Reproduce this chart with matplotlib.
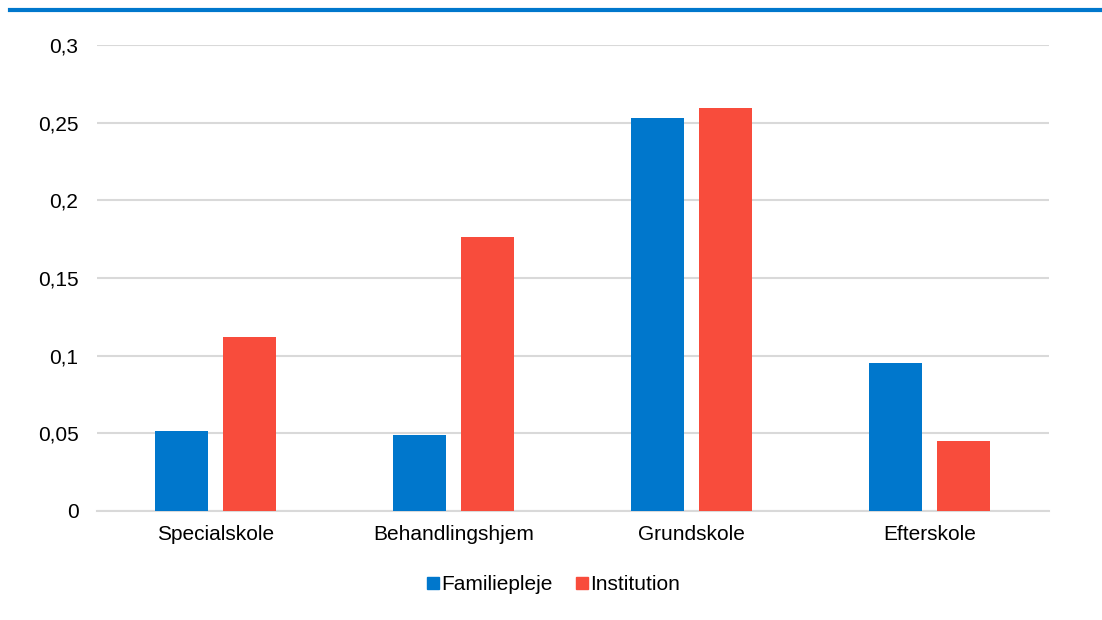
import matplotlib
matplotlib.use("Agg")
import matplotlib.pyplot as plt
import numpy as np
from matplotlib.lines import Line2D
from matplotlib.ticker import FuncFormatter

plt.rcParams['font.family'] = ['Liberation Sans', 'DejaVu Sans']

categories = ["Specialskole", "Behandlingshjem", "Grundskole", "Efterskole"]
familiepleje = [0.0513, 0.0489, 0.2530, 0.0953]
institution = [0.1122, 0.1764, 0.2595, 0.0451]
series_names = ["Familiepleje", "Institution"]
yticks = [0, 0.05, 0.1, 0.15, 0.2, 0.25, 0.3]

blue = "#0077CC"
red = "#F84C3C"
grid_col = "#D9D9D9"
fs = 15

fig = plt.figure(figsize=(11.02, 6.2), dpi=100)
ax = fig.add_axes([96.5 / 1102, 1 - 511 / 620, 952 / 1102, 466 / 620])

x = np.arange(len(categories))
w = 0.223
off = 0.143
ax.bar(x - off, familiepleje, width=w, color=blue, zorder=3)
ax.bar(x + off, institution, width=w, color=red, zorder=3)

ax.set_xlim(-0.5, 3.5)
ax.set_ylim(0, 0.3)
ax.set_yticks(yticks)
ax.yaxis.set_major_formatter(FuncFormatter(lambda v, p: f"{v:g}".replace(".", ",")))
ax.set_xticks(x)
ax.set_xticklabels(categories)
ax.grid(axis="y", color=grid_col, linewidth=1.5, zorder=0)
for s in ["top", "right", "left"]:
    ax.spines[s].set_visible(False)
ax.spines["bottom"].set_color(grid_col)
ax.spines["bottom"].set_linewidth(1.5)
ax.tick_params(axis="both", length=0, labelsize=fs, colors="black")
ax.tick_params(axis="y", pad=13)
ax.tick_params(axis="x", pad=10)

handles = [Line2D([], [], marker="s", linestyle="none", markersize=8, color=c)
           for c in (blue, red)]
fig.legend(handles, series_names, loc="center", bbox_to_anchor=(552 / 1102, 1 - 585 / 620),
           ncol=2, frameon=False, fontsize=fs, handletextpad=0.0, columnspacing=1.0,
           handlelength=0.8)

# Header rule across the top
fig.add_artist(Line2D([10 / 1102, 1], [1 - 10 / 620, 1 - 10 / 620], color=blue,
                      linewidth=3.0, transform=fig.transFigure))

fig.savefig("out.png", dpi=100)
